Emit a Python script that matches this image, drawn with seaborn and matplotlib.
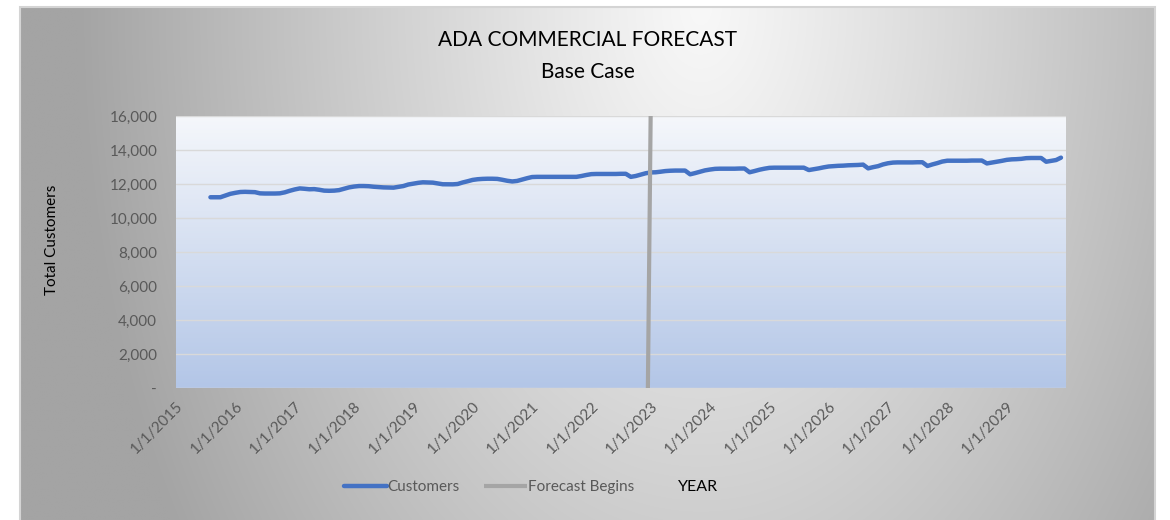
import numpy as np
import pandas as pd
import matplotlib
matplotlib.use("Agg")
import matplotlib.pyplot as plt
from matplotlib.colors import to_rgb
from matplotlib.patches import Rectangle
import seaborn as sns

# ---------------------------------------------------------------------------
# Data: monthly commercial customer counts, Aug 2015 through Dec 2029
# ---------------------------------------------------------------------------
first_month = "2015-08-01"
customers = [
    # 2015 (Aug-Dec)
    11220, 11220, 11220, 11320, 11420,
    # 2016
    11480, 11530, 11540, 11530, 11520, 11450, 11440, 11440, 11440, 11450, 11510, 11600,
    # 2017
    11680, 11740, 11720, 11690, 11700, 11660, 11610, 11600, 11610, 11640, 11720, 11800,
    # 2018
    11850, 11880, 11880, 11870, 11840, 11820, 11800, 11790, 11785, 11830, 11880, 11970,
    # 2019
    12020, 12070, 12100, 12090, 12080, 12030, 11985, 11980, 11980, 12000, 12090, 12160,
    # 2020
    12240, 12280, 12300, 12310, 12310, 12300, 12250, 12190, 12150, 12180, 12260, 12340,
    # 2021
    12410, 12420, 12420, 12420, 12420, 12420, 12420, 12420, 12420, 12420, 12470, 12530,
    # 2022
    12580, 12590, 12590, 12590, 12590, 12590, 12600, 12600, 12420, 12470, 12550, 12630,
    # 2023
    12680, 12690, 12720, 12760, 12780, 12790, 12790, 12790, 12570, 12640, 12720, 12800,
    # 2024
    12850, 12890, 12900, 12900, 12900, 12900, 12910, 12910, 12690, 12760, 12840, 12900,
    # 2025
    12950, 12960, 12960, 12960, 12960, 12960, 12960, 12960, 12820, 12870, 12920, 12980,
    # 2026
    13030, 13050, 13070, 13080, 13100, 13110, 13120, 13140, 12920, 12990, 13050, 13150,
    # 2027
    13220, 13260, 13270, 13270, 13270, 13270, 13280, 13280, 13060, 13150, 13230, 13320,
    # 2028
    13370, 13370, 13370, 13370, 13370, 13380, 13380, 13380, 13210, 13260, 13310, 13360,
    # 2029
    13420, 13450, 13460, 13480, 13520, 13530, 13530, 13530, 13310, 13360, 13410, 13550,
]

# Vertical marker where the forecast period starts
forecast_dates = ["2022-12-15", "2023-01-01"]
forecast_values = [0, 16000]

# Axis ticks
tick_years = list(range(2015, 2030))
y_ticks = [0, 2000, 4000, 6000, 8000, 10000, 12000, 14000, 16000]
x_range = ["2015-01-01", "2030-01-01"]

title = "ADA COMMERCIAL FORECAST"
subtitle = "Base Case"

# ---------------------------------------------------------------------------
dates = pd.date_range(first_month, periods=len(customers), freq="MS")
df = pd.DataFrame({"date": dates, "customers": customers})
fc = pd.DataFrame({"date": pd.to_datetime(forecast_dates), "value": forecast_values})

sns.set_theme(style="white")
plt.rcParams["font.family"] = ["Lato", "DejaVu Sans"]

W, H = 1170, 520
fig = plt.figure(figsize=(W / 100, H / 100), dpi=100)
fig.patch.set_facecolor("white")

# Chart-area background: soft radial grey gradient (runs past the bottom edge)
bg = fig.add_axes([20 / W, -0.05, 1135 / W, (H - 7) / H + 0.05], zorder=-10)
gy, gx = np.mgrid[0:1:300j, 0:1:700j]
dist = np.sqrt(((gx - 0.6) / 0.55) ** 2 + (gy / 1.8) ** 2)
t = np.clip(dist, 0, 1)[..., None] ** 1.1
light, dark = np.array(to_rgb("#f8f8f8")), np.array(to_rgb("#a4a4a4"))
bg.imshow(light * (1 - t) + dark * t, extent=[0, 1, 1, 0], aspect="auto",
          interpolation="bilinear")
bg.set_xlim(0, 1)
bg.set_ylim(1, 0)
bg.axis("off")
bg.add_patch(Rectangle((0, 0), 1, 1, transform=bg.transAxes, fill=False,
                       edgecolor="#d4d4d4", linewidth=1.5, clip_on=False))

# Plot-area background: vertical white-to-blue gradient
rect = [176 / W, 1 - 388 / H, 890 / W, 272 / H]
pa = fig.add_axes(rect, zorder=-5)
vg = np.linspace(0, 1, 256)[:, None, None]
top_c, bot_c = np.array(to_rgb("#f5f7fb")), np.array(to_rgb("#b3c6e7"))
pa.imshow(top_c * (1 - vg) + bot_c * vg, extent=[0, 1, 0, 1], aspect="auto",
          origin="upper", interpolation="bilinear")
pa.axis("off")

ax = fig.add_axes(rect, zorder=0)
ax.patch.set_alpha(0)

sns.lineplot(data=df, x="date", y="customers", ax=ax, color="#4472C4",
             linewidth=3.2, label="Customers", solid_capstyle="round")
sns.lineplot(data=fc, x="date", y="value", ax=ax, color="#A5A5A5",
             linewidth=3.0, label="Forecast Begins", solid_capstyle="butt")

ax.set_xlim(pd.Timestamp(x_range[0]), pd.Timestamp(x_range[1]))
ax.set_ylim(0, 16000)

tick_dates = [pd.Timestamp(year=y, month=1, day=1) for y in tick_years]
ax.set_xticks(tick_dates)
ax.set_xticklabels([f"{d.month}/{d.day}/{d.year}" for d in tick_dates],
                   rotation=45, ha="right", va="top", rotation_mode="anchor",
                   fontsize=11, color="#595959")
ax.set_yticks(y_ticks)
ax.set_yticklabels(["-" if v == 0 else f"{v:,}" for v in y_ticks],
                   fontsize=11, color="#595959")
ax.tick_params(axis="both", length=0)
ax.tick_params(axis="x", pad=8)
ax.tick_params(axis="y", pad=13.5)

ax.yaxis.grid(True, color="#d9d9d9", linewidth=1.0)
ax.xaxis.grid(False)
ax.set_axisbelow(True)
for s in ax.spines.values():
    s.set_visible(False)
ax.set_xlabel("")
ax.set_ylabel("")

# Titles and axis labels
fig.text(588 / W, 1 - 40 / H, title, ha="center", va="center", fontsize=15,
         color="black")
fig.text(588 / W, 1 - 72 / H, subtitle, ha="center", va="center", fontsize=15,
         color="black")
fig.text(52 / W, 1 - 240 / H, "Total Customers", rotation=90, ha="center",
         va="center", fontsize=11, color="black")

# Legend along the bottom, with the x-axis title next to it
handles, labels = ax.get_legend_handles_labels()
ax.get_legend().remove()
fig.legend(handles, labels, loc="center", bbox_to_anchor=(489 / W, 1 - 487 / H),
           ncol=2, frameon=False, handlelength=2.8, handletextpad=0.05,
           columnspacing=1.6, fontsize=11, labelcolor="#595959")
fig.text(678 / W, 1 - 487 / H, "YEAR", ha="left", va="center", fontsize=11.5,
         color="black")

fig.savefig("out.png", dpi=100)
